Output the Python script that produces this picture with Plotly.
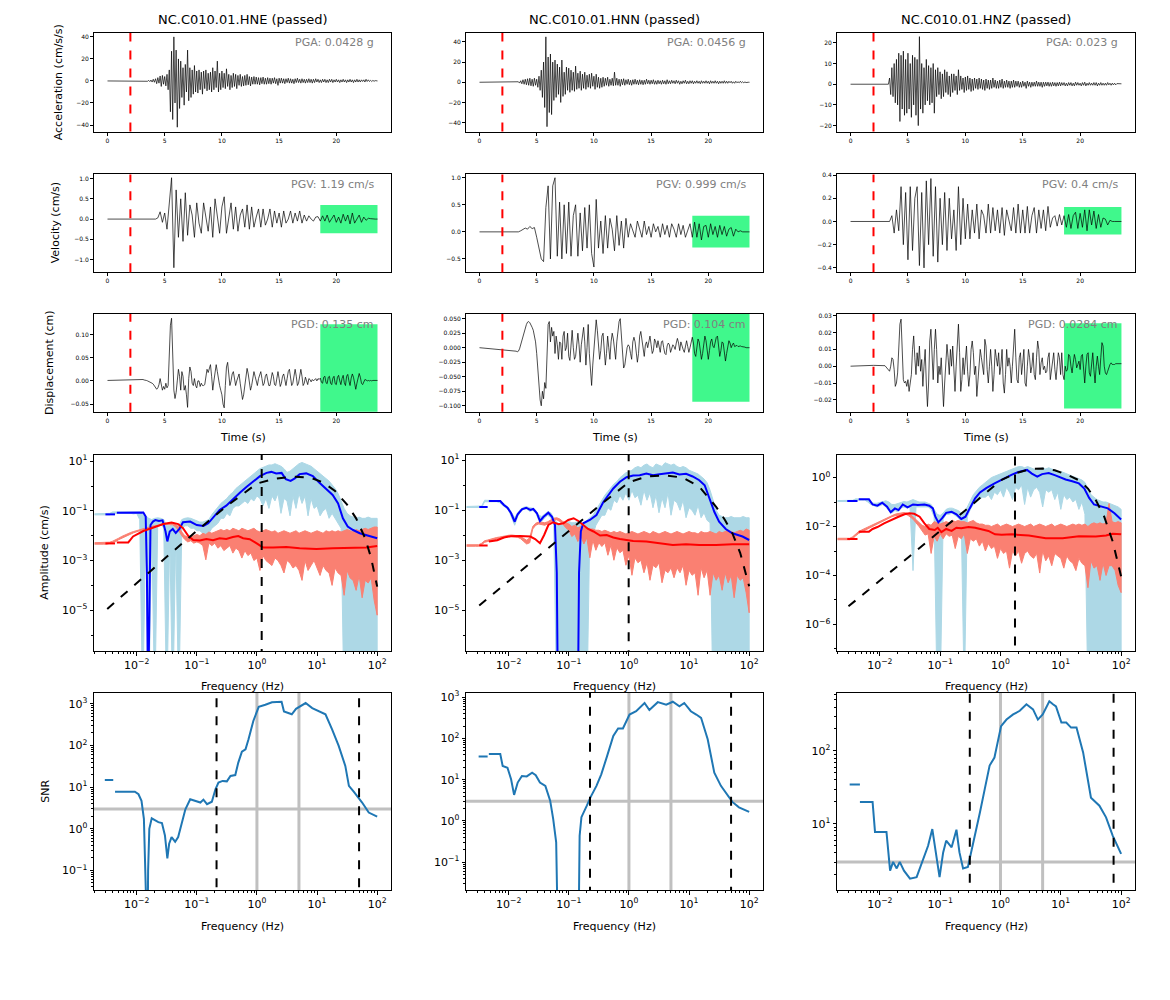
import numpy as np
import plotly.graph_objects as go

# ---------------- DATA ----------------
STATIONS = ["NC.C010.01.HNE (passed)", "NC.C010.01.HNN (passed)", "NC.C010.01.HNZ (passed)"]
PGA_TXT = ["PGA: 0.0428 g", "PGA: 0.0456 g", "PGA: 0.023 g"]
PGV_TXT = ["PGV: 1.19 cm/s", "PGV: 0.999 cm/s", "PGV: 0.4 cm/s"]
PGD_TXT = ["PGD: 0.135 cm", "PGD: 0.104 cm", "PGD: 0.0284 cm"]

P_ARRIVAL = 2.0
T_PRE = [0.0, 1.0, 2.0]
T_MAIN = (3.0, 23.6)
NOISE_WIN = (18.6, 23.6)
NOISE_VEL = [(-0.348, 0.348), (-0.287, 0.296), (-0.112, 0.125)]
NOISE_DISP = [(-0.122, 0.122), (-0.093, 0.093), (-0.0252, 0.0255)]

ACC_E_PRE = [0, 0, 0]
ACC_E = [0, 0, 0, 0, 0.3, -0.3, 0.5, -0.6, 0.8, -1.0,
         1.5, -1.2, 2.0, -2.5, 3.0, -2.0, 4.5, -5.0, 5.0, -3.0,
         4.0, -4.5, 6.0, -8.0, 10.0, -28.0, 27.0, -35.0, 40.0, -20.0,
         28.0, -42.0, 20.0, -25.0, 18.0, -15.0, 12.0, -22.0, 15.0, -10.0,
         28.0, -18.0, 12.0, -15.0, 10.0, -12.0, 14.0, -10.0, 9.0, -11.0,
         10.0, -8.0, 8.0, -12.0, 9.0, -7.0, 10.0, -9.0, 7.0, -8.0,
         8.0, -10.0, 12.0, -8.0, 9.0, -6.0, 18.0, -10.0, 7.0, -8.0,
         9.0, -6.0, 7.0, -7.0, 11.0, -5.0, 6.0, -8.0, 5.0, -6.0,
         7.0, -5.0, 6.0, -7.0, 5.0, -4.0, 6.0, -5.0, 4.0, -4.5,
         5.0, -4.0, 6.0, -3.5, 4.0, -4.5, 3.5, -3.0, 4.0, -3.0,
         3.5, -3.0, 3.0, -3.5, 3.0, -2.5, 3.5, -3.0, 2.5, -3.0,
         3.0, -2.5, 2.5, -3.0, 2.5, -2.0, 3.0, -2.5, 2.0, -4.0,
         2.5, -2.0, 2.5, -2.0, 2.0, -2.5, 2.0, -1.5, 2.5, -2.0,
         2.0, -2.0, 1.5, -2.5, 2.0, -1.5, 2.5, -1.5, 1.5, -2.0,
         2.0, -1.5, 1.5, -2.0, 1.5, -1.5, 2.0, -1.5, 1.5, -2.0,
         1.5, -1.5, 2.0, -1.0, 1.5, -1.5, 1.0, -1.5, 1.5, -1.0,
         1.5, -1.5, 1.0, -1.5, 1.5, -1.0, 1.5, -1.5, 1.0, -1.0,
         1.5, -1.0, 1.0, -1.5, 1.0, -1.0, 1.5, -1.0, 1.0, -1.5,
         1.0, -1.0, 1.5, -1.0, 1.0, -1.5, 1.0, -1.0, 1.5, -1.0,
         1.0, -1.0, 1.0, -0.5, 1.0, -1.0, 1.5, -0.5, 1.0, -0.5,
         0.5, -0.5, 0.5, -0.3, 0.3, 0, 0]

ACC_N_PRE = [0, 0, 0]
ACC_N = [0, 0, 0, 0, 0.5, -0.8, 1.5, -1.5, 2.5, -2.0,
         3.0, -2.5, 3.5, -3.0, 4.0, -3.5, 3.0, -4.0, 4.0, -3.0,
         3.0, -5.0, 6.0, -8.0, 12.0, -15.0, 20.0, -25.0, 45.0, -44.0,
         25.0, -30.0, 28.0, -32.0, 20.0, -18.0, 22.0, -15.0, 18.0, -12.0,
         15.0, -20.0, 22.0, -14.0, 10.0, -12.0, 15.0, -8.0, 14.0, -10.0,
         12.0, -8.0, 10.0, -9.0, 16.0, -7.0, 9.0, -6.0, 11.0, -8.0,
         8.0, -6.0, 10.0, -7.0, 7.0, -5.0, 8.0, -6.0, 9.0, -4.0,
         6.0, -7.0, 8.0, -5.0, 5.0, -6.0, 4.0, -5.0, 5.0, -4.0,
         4.0, -3.0, 5.0, -4.0, 3.0, -3.0, 4.0, -3.5, 10.0, -3.0,
         4.0, -3.0, 3.0, -4.0, 3.0, -2.5, 3.5, -3.0, 2.5, -2.0,
         3.0, -2.5, 2.0, -3.0, 2.5, -2.0, 3.0, -2.0, 2.0, -2.5,
         2.5, -2.0, 2.0, -2.5, 2.0, -2.0, 3.0, -1.5, 2.0, -2.0,
         2.0, -1.5, 2.5, -2.0, 1.5, -2.0, 2.0, -1.5, 1.5, -2.0,
         2.0, -1.5, 1.5, -2.0, 2.5, -1.5, 1.5, -1.5, 2.0, -1.0,
         1.5, -1.5, 2.0, -1.0, 1.5, -2.0, 1.0, -1.5, 1.5, -1.0,
         2.0, -1.5, 1.0, -1.5, 1.5, -1.0, 1.5, -1.5, 1.0, -1.0,
         1.5, -1.0, 1.0, -1.5, 1.5, -1.0, 1.0, -1.0, 1.5, -1.0,
         1.0, -1.5, 1.5, -1.0, 1.0, -1.0, 1.5, -1.0, 1.0, -1.5,
         1.0, -1.0, 1.0, -1.0, 1.5, -1.0, 1.0, -1.0, 1.0, -0.5,
         1.0, -1.0, 0.5, -1.0, 1.0, -0.5, 0.5, -0.5, 1.0, -0.5,
         0.5, -0.5, 0.3, -0.3, 0.2, 0, 0]

ACC_Z_PRE = [0, 0, 0]
ACC_Z = [0, 0, 0, 0, 3.0, -5.0, 8.0, -6.0, 10.0, -9.0,
         12.0, -10.0, 15.0, -18.0, 14.0, -12.0, 16.0, -15.0, 12.0, -14.0,
         15.0, -12.0, 10.0, -16.0, 14.0, -10.0, 13.0, -15.0, 12.0, -20.0,
         23.0, -12.0, 10.0, -14.0, 8.0, -10.0, 12.0, -8.0, 9.0, -10.0,
         8.0, -9.0, 10.0, -14.0, 7.0, -6.0, 8.0, -5.0, 6.0, -7.0,
         5.0, -6.0, 7.0, -4.0, 6.0, -5.0, 4.0, -6.0, 5.0, -4.0,
         5.0, -3.0, 4.0, -5.0, 7.0, -3.0, 4.0, -2.5, 3.0, -4.0,
         3.5, -3.0, 4.0, -2.5, 3.0, -3.5, 2.5, -3.0, 3.0, -2.0,
         2.5, -2.5, 3.0, -2.0, 2.5, -2.5, 2.0, -3.0, 2.5, -2.0,
         2.0, -2.5, 2.0, -2.0, 3.0, -1.5, 2.0, -2.0, 1.5, -2.0,
         2.0, -1.5, 2.5, -2.0, 1.5, -1.5, 2.0, -1.5, 1.5, -2.0,
         1.5, -1.5, 2.0, -1.5, 1.5, -1.0, 1.5, -1.5, 1.0, -1.5,
         1.5, -1.0, 1.0, -2.0, 1.5, -1.0, 1.0, -1.5, 1.0, -1.0,
         1.0, -1.0, 1.5, -1.0, 1.0, -1.0, 1.0, -1.5, 1.0, -1.0,
         1.0, -0.8, 1.0, -1.0, 0.8, -1.0, 1.0, -0.8, 0.8, -1.0,
         0.8, -0.8, 1.0, -0.8, 0.8, -0.5, 0.8, -0.8, 0.5, -0.8,
         0.8, -0.5, 0.8, -0.8, 0.5, -0.8, 1.0, -0.5, 0.8, -0.5,
         0.5, -0.8, 0.8, -0.5, 1.0, -0.8, 0.5, -0.5, 0.8, -0.5,
         0.5, -0.5, 0.8, -0.5, 0.8, -0.8, 0.5, -0.5, 0.8, -0.5,
         0.5, -0.5, 0.5, -0.5, 0.8, -0.3, 0.5, -0.5, 0.5, -0.3,
         0.5, -0.3, 0.3, 0.3, 0.2, 0.2, 0.2]

# velocity sampled every 0.2 s from 3.0 s
VEL_E_PRE = [0, 0, 0]
VEL_E = [0, 0, 0, 0, -0.01, -0.01, 0.0, 0.03, 0.18, -0.08,
         0.15, -0.25, 0.3, 1.02, -1.2, 0.72, -0.45, 0.5, -0.55, 0.65,
         -0.4, 0.35, 0.1, -0.45, 0.4, -0.1, -0.35, 0.4, 0.05, -0.3,
         0.3, -0.45, 0.5, 0.1, -0.35, 0.3, 0.55, -0.35, 0.0, 0.4,
         -0.25, 0.3, -0.3, 0.1, 0.25, -0.2, 0.35, -0.25, 0.3, -0.2,
         0.05, 0.25, -0.2, 0.25, -0.15, 0.0, 0.25, -0.2, 0.2, -0.1,
         0.15, -0.2, 0.2, -0.1, 0.0, 0.2, -0.1, 0.15, -0.05, 0.2,
         -0.1, 0.1, -0.05, 0.08, 0.0, -0.05, 0.05, 0.06, -0.05, 0.08,
         -0.05, 0.1, -0.08, 0.02, 0.1, -0.08, 0.05, -0.1, 0.12, -0.05,
         0.1, -0.12, 0.15, -0.1, 0.0, 0.1, -0.08, 0.05, -0.03, 0.02,
         0.01, 0.0, 0.0, 0.0]

VEL_N_PRE = [0, 0, 0]
VEL_N = [0, 0, 0, 0.02, 0.05, 0.07, 0.05, 0.1, 0.06, 0.08,
         -0.1, -0.3, -0.5, -0.55, 0.45, 0.85, -0.5, 0.85, 1.0, -0.45,
         0.55, -0.5, 0.5, -0.4, 0.55, -0.45, 0.3, 0.5, -0.45, 0.35,
         -0.35, 0.45, -0.3, 0.5, -0.4, -0.65, 0.6, -0.3, 0.2, -0.4,
         0.3, -0.3, 0.25, 0.05, -0.35, 0.3, -0.25, 0.2, -0.3, 0.25,
         -0.1, 0.15, 0.0, -0.1, 0.2, 0.05, -0.1, 0.2, -0.05, 0.1,
         -0.1, 0.15, 0.0, 0.1, -0.1, 0.15, -0.05, 0.12, -0.1, 0.15,
         0.05, -0.1, 0.15, -0.05, 0.12, -0.1, 0.05, 0.15, -0.1, 0.18,
         -0.1, 0.15, -0.15, 0.1, 0.12, -0.1, 0.15, -0.05, 0.1, -0.1,
         0.12, -0.05, 0.1, -0.08, 0.05, 0.08, -0.08, 0.05, 0.0, 0.02,
         0.0, 0.0, 0.0, 0.0]

VEL_Z_PRE = [0, 0, 0]
VEL_Z = [0, 0, 0, 0.05, -0.1, 0.1, -0.08, 0.3, -0.2, 0.25,
         -0.33, 0.3, -0.25, 0.2, 0.3, -0.38, 0.25, -0.4, 0.35, -0.2,
         0.37, -0.3, 0.3, -0.35, 0.2, -0.2, 0.25, -0.25, 0.2, -0.15,
         0.1, -0.25, 0.3, -0.2, 0.2, -0.15, 0.15, -0.15, 0.1, -0.1,
         0.15, -0.15, 0.1, 0.05, -0.1, 0.15, -0.1, 0.12, -0.08, 0.1,
         -0.1, 0.12, -0.12, 0.1, 0.0, -0.08, 0.12, -0.1, 0.15, -0.1,
         0.1, -0.1, 0.13, -0.1, 0.05, 0.12, -0.1, 0.1, -0.06, 0.1,
         -0.08, 0.13, -0.05, 0.03, 0.05, -0.04, 0.06, -0.03, 0.05, -0.05,
         0.06, -0.06, 0.05, 0.08, -0.06, 0.07, -0.05, 0.1, -0.08, 0.1,
         -0.03, 0.09, -0.06, 0.06, -0.05, 0.03, 0.02, -0.03, 0.01, 0.0,
         0.0, 0.0, 0.0, 0.0]

DISP_E_PRE = [0.001, 0.002, 0.003]
DISP_E = [0.003, 0.003, 0.002, 0.002, 0.001, 0.0, -0.001, -0.002, -0.003, -0.005,
          -0.007, -0.01, -0.014, -0.018, -0.015, -0.008, 0.005, -0.01, -0.02, -0.012,
          -0.018, -0.005, -0.015, -0.01, 0.06, 0.12, 0.135, 0.05, -0.02, -0.038,
          -0.025, 0.0, 0.025, 0.01, -0.02, 0.02, 0.01, -0.02, -0.01, -0.03,
          -0.057, 0.005, 0.03, 0.02, -0.005, -0.01, 0.005, -0.01, -0.015, 0.0,
          0.0, -0.012, -0.005, -0.01, -0.01, -0.008, 0.015, 0.025, 0.018, 0.03,
          0.035, 0.01, -0.02, 0.0, 0.025, 0.035, 0.02, 0.0, -0.01, -0.02,
          -0.03, -0.05, -0.058, -0.01, 0.03, 0.04, 0.02, -0.01, 0.0, 0.015,
          0.02, 0.0, -0.01, 0.0, 0.01, 0.015, -0.005, -0.025, -0.04, -0.03,
          -0.01, 0.015, 0.027, 0.015, -0.005, -0.02, -0.01, 0.01, 0.02, 0.01,
          -0.005, -0.01, 0.005, 0.015, 0.02, 0.005, -0.01, -0.005, 0.01, 0.015,
          0.005, -0.01, -0.01, 0.005, 0.018, 0.01, -0.008, -0.01, 0.01, 0.02,
          0.005, -0.012, -0.005, 0.01, 0.015, 0.0, -0.01, 0.005, 0.02, 0.025,
          0.005, -0.01, -0.005, 0.015, 0.025, 0.01, -0.01, -0.005, 0.015, 0.025,
          0.01, -0.01, -0.005, 0.008, 0.0, -0.008, 0.005, 0.003, -0.002, 0.003,
          0.0, 0.002, 0.005, 0.0, 0.005, 0.003, 0.006, -0.003, -0.005, 0.008,
          0.01, -0.004, -0.006, 0.008, 0.01, -0.005, -0.008, 0.006, 0.01, -0.006,
          -0.008, 0.008, 0.012, 0.0, -0.008, 0.005, 0.012, -0.004, -0.01, 0.01,
          0.014, 0.0, -0.01, 0.006, 0.015, 0.008, -0.01, -0.018, -0.005, 0.01,
          0.016, 0.008, -0.005, -0.008, 0.0, 0.003, 0.002, 0.0, 0.001, 0.0,
          0.001, 0.0, 0.001, 0.001, 0.001, 0.001, 0.001]

DISP_N_PRE = [0.0, -0.002, -0.004]
DISP_N = [-0.005, -0.006, -0.006, -0.007, -0.006, -0.002, 0.005, 0.012, 0.02, 0.028,
          0.035, 0.04, 0.044, 0.045, 0.043, 0.04, 0.035, 0.03, 0.02, 0.01,
          -0.01, -0.04, -0.07, -0.09, -0.1, -0.075, -0.088, -0.06, -0.07, -0.02,
          0.04, 0.045, 0.01, 0.035, 0.02, 0.028, -0.01, 0.02, 0.005, -0.02,
          0.01, 0.008, -0.02, 0.02, 0.028, -0.005, 0.0, 0.025, -0.015, -0.022,
          0.015, 0.03, 0.0, -0.02, -0.015, 0.01, 0.025, 0.005, -0.025, 0.005,
          0.02, 0.035, 0.01, -0.03, 0.0, 0.04, -0.01, -0.05, -0.065, -0.03,
          0.0, 0.03, 0.048, 0.03, 0.0, -0.02, -0.005, 0.02, 0.025, -0.01,
          -0.03, -0.01, 0.02, 0.0, -0.02, 0.01, 0.025, 0.015, -0.005, -0.02,
          0.01, 0.03, 0.045, 0.05, 0.02, -0.02, -0.035, -0.03, -0.01, 0.0,
          0.005, 0.002, -0.01, -0.02, 0.01, 0.018, 0.01, -0.01, -0.025, -0.01,
          0.02, 0.028, 0.015, -0.005, -0.015, 0.005, 0.01, 0.0, 0.012, 0.02,
          0.005, -0.01, -0.005, 0.015, 0.01, 0.0, 0.012, 0.0, -0.008, 0.01,
          0.012, 0.0, -0.01, -0.012, 0.003, 0.008, 0.005, -0.008, 0.0, 0.005,
          0.002, -0.003, 0.008, 0.016, 0.008, -0.005, 0.01, 0.002, -0.003, -0.008,
          0.005, 0.012, 0.002, -0.008, 0.0, 0.01, 0.018, 0.008, -0.01, -0.015,
          0.0, 0.015, 0.01, -0.005, -0.02, -0.01, 0.008, 0.02, 0.012, -0.01,
          -0.02, -0.005, 0.01, 0.015, 0.003, 0.0, 0.01, 0.018, 0.02, 0.0,
          -0.015, -0.005, 0.01, 0.008, -0.01, -0.023, -0.01, 0.005, 0.012, 0.008,
          0.0, 0.005, 0.008, 0.002, 0.003, 0.004, 0.002, 0.003, 0.003, 0.002,
          0.002, 0.001, 0.001, 0.0, 0.0, 0.0, 0.0]

DISP_Z_PRE = [0.0, 0.0003, 0.0005]
DISP_Z = [0.0003, -0.0005, -0.001, -0.002, -0.003, 0.0, 0.005, 0.004, -0.002, -0.012,
          -0.01, -0.004, 0.01, 0.025, 0.028, 0.01, -0.008, -0.01, -0.009, -0.012,
          -0.008, -0.015, -0.01, -0.005, 0.01, 0.018, 0.005, -0.005, 0.008, 0.0,
          0.012, -0.003, 0.004, -0.012, 0.0, 0.01, -0.01, -0.024, -0.01, 0.015,
          0.022, 0.0, -0.008, 0.01, 0.022, 0.01, -0.01, 0.0, -0.005, 0.005,
          -0.01, -0.024, -0.01, 0.005, 0.013, 0.005, -0.005, 0.01, 0.0, 0.012,
          -0.005, -0.015, 0.0, 0.015, 0.025, 0.008, -0.015, -0.008, 0.005, -0.005,
          0.006, 0.012, -0.003, -0.012, -0.005, 0.01, 0.015, 0.008, -0.005, 0.0,
          -0.018, -0.01, 0.0, 0.01, 0.005, 0.0, -0.005, 0.016, 0.012, -0.002,
          -0.01, 0.0, 0.01, 0.0, -0.015, -0.005, 0.01, 0.005, 0.0, 0.008,
          -0.005, 0.0, 0.01, -0.01, -0.016, -0.005, 0.01, 0.0, 0.005, 0.0,
          -0.01, 0.0, 0.015, 0.022, 0.005, -0.008, -0.01, 0.005, 0.008, -0.005,
          0.002, 0.01, -0.01, -0.012, 0.0, 0.01, 0.005, -0.004, 0.0, 0.008,
          -0.005, -0.008, 0.005, 0.015, 0.01, -0.005, 0.002, 0.005, -0.002, 0.0,
          -0.004, -0.003, 0.005, 0.008, -0.008, -0.003, 0.0, 0.008, -0.002, -0.008,
          0.0, 0.008, 0.005, -0.005, 0.008, -0.005, -0.008, 0.0, -0.003, -0.002,
          0.007, 0.006, 0.0, -0.004, 0.002, 0.007, 0.004, -0.001, 0.001, 0.003,
          -0.002, 0.006, 0.007, -0.004, -0.01, 0.0, 0.007, 0.008, -0.004, -0.006,
          0.004, 0.008, -0.002, -0.01, 0.0, 0.006, 0.0, -0.005, 0.005, 0.014,
          0.012, 0.0, -0.004, -0.005, -0.003, 0.0, 0.001, 0.002, 0.001, 0.001,
          0.001, 0.0015, 0.0015, 0.0015, 0.0015, 0.0015, 0.0015]

# Raw spectra envelopes (log10 cm/s) on a log-frequency grid 10^-2.70 .. 10^2.00
RAW_LOGF_SPAN = (-2.70, 2.00)
SIG_UP_E = [-1.12, -1.12, -1.12, -1.12, -1.12, -1.10, -1.04, -1.04, -1.03, -1.03,
            -1.03, -1.02, -1.02, -1.03, -1.02, -1.05, -1.15, -1.2, -1.3, -1.35,
            -1.3, -1.28, -1.3, -1.35, -1.6, -1.6, -1.55, -1.6, -1.6, -1.35,
            -1.3, -1.28, -1.3, -1.35, -1.4, -1.45, -1.45, -1.4, -1.35, -1.15,
            -1.0, -0.85, -0.7, -0.6, -0.5, -0.35, -0.25, -0.1, 0.0, 0.1,
            0.2, 0.3, 0.4, 0.5, 0.6, 0.7, 0.75, 0.8, 0.85, 0.85,
            0.9, 0.85, 0.8, 0.7, 0.55, 0.6, 0.7, 0.8, 0.9, 0.95,
            0.9, 0.85, 0.8, 0.7, 0.6, 0.5, 0.4, 0.3, 0.2, 0.05,
            -0.1, -0.3, -0.6, -0.9, -1.1, -1.2, -1.25, -1.3, -1.25, -1.3,
            -1.3, -1.25, -1.3, -1.3, -1.3]
SIG_LO_E = [-1.16, -1.16, -1.16, -1.16, -1.16, -1.16, -1.10, -1.10, -1.10, -1.10,
            -1.10, -1.10, -1.10, -1.12, -1.10, -1.35, -9, -1.6, -9, -1.7,
            -9, -1.55, -1.5, -1.7, -9, -2.0, -9, -2.0, -9, -1.75,
            -1.6, -1.6, -1.7, -1.7, -1.8, -1.8, -1.9, -2.0, -1.9, -1.7,
            -1.6, -1.5, -1.3, -1.3, -1.1, -1.2, -0.9, -0.8, -0.8, -0.7,
            -0.6, -0.7, -0.5, -0.6, -0.4, -0.5, -0.8, -0.5, -0.9, -0.4,
            -0.6, -0.3, -1.1, -0.5, -0.6, -1.2, -0.4, -0.9, -0.3, -0.7,
            -0.4, -1.2, -0.5, -0.9, -0.8, -1.2, -1.0, -0.9, -1.3, -1.1,
            -1.3, -1.5, -1.7, -9, -9, -9, -9, -9, -9, -9,
            -9, -9, -9, -9, -9]
NOISE_UP_E = [-2.28, -2.28, -2.28, -2.28, -2.28, -2.26, -2.22, -2.17, -2.1, -2.03,
              -1.97, -1.92, -1.87, -1.83, -1.79, -1.75, -1.71, -1.68, -1.65, -1.62,
              -1.6, -1.57, -1.55, -1.53, -1.51, -1.5, -1.5, -1.55, -1.65, -1.85,
              -2.0, -2.05, -2.0, -2.0, -1.95, -2.0, -1.9, -1.95, -1.85, -1.9,
              -1.85, -1.8, -1.75, -1.8, -1.75, -1.8, -1.7, -1.75, -1.8, -1.7,
              -1.75, -1.8, -1.75, -1.7, -1.8, -1.85, -1.8, -1.75, -1.8, -1.85,
              -1.8, -1.9, -1.85, -1.8, -1.85, -1.9, -1.85, -1.8, -1.9, -1.85,
              -1.8, -1.85, -1.9, -1.85, -1.8, -1.85, -1.9, -1.8, -1.85, -1.8,
              -1.85, -1.8, -1.85, -1.8, -1.75, -1.8, -1.85, -1.75, -1.8, -1.75,
              -1.7, -1.75, -1.7, -1.65, -1.65]
NOISE_LO_E = [-2.34, -2.34, -2.34, -2.34, -2.34, -2.32, -2.28, -2.24, -2.16, -2.09,
              -2.03, -1.98, -1.93, -1.88, -1.84, -1.79, -1.75, -1.72, -1.69, -1.66,
              -1.64, -1.61, -1.58, -1.56, -1.55, -1.54, -1.56, -1.65, -1.8, -2.0,
              -2.15, -2.25, -2.2, -2.3, -2.25, -2.3, -2.4, -2.97, -2.3, -2.4,
              -2.3, -2.5, -2.4, -2.6, -2.5, -2.4, -2.7, -2.5, -2.6, -2.9,
              -2.6, -2.8, -2.7, -3.0, -2.9, -3.4, -2.8, -3.0, -3.1, -3.2,
              -2.9, -3.0, -3.2, -3.5, -3.0, -3.1, -3.3, -3.2, -3.4, -3.8,
              -3.0, -3.4, -3.2, -3.0, -3.3, -3.6, -3.2, -3.4, -3.5, -4.0,
              -3.3, -3.5, -3.6, -4.4, -3.4, -3.7, -3.8, -4.2, -3.6, -4.5,
              -3.8, -3.9, -3.7, -4.6, -5.2]

SIG_UP_N = [-0.85, -0.85, -0.85, -0.85, -0.85, -0.83, -0.6, -0.6, -0.6, -0.6,
            -0.6, -0.62, -0.7, -0.8, -0.9, -1.1, -1.3, -1.1, -0.95, -0.88,
            -0.86, -0.9, -0.92, -1.0, -1.2, -1.25, -1.15, -1.05, -1.1, -1.3,
            -1.5, -1.55, -1.6, -1.5, -1.45, -1.5, -1.5, -1.45, -1.6, -1.5,
            -1.4, -1.3, -1.2, -1.0, -0.8, -0.55, -0.4, -0.25, -0.1, 0.05,
            0.15, 0.3, 0.4, 0.5, 0.55, 0.6, 0.7, 0.75, 0.7, 0.8,
            0.85, 0.75, 0.7, 0.85, 0.8, 0.75, 0.9, 0.85, 0.8, 0.85,
            0.75, 0.7, 0.75, 0.7, 0.6, 0.55, 0.5, 0.45, 0.35, 0.25,
            0.1, -0.2, -0.6, -1.0, -1.2, -1.25, -1.3, -1.3, -1.25, -1.3,
            -1.3, -1.3, -1.25, -1.3, -1.3]
SIG_LO_N = [-0.89, -0.89, -0.89, -0.89, -0.89, -0.89, -0.66, -0.66, -0.66, -0.66,
            -0.66, -0.7, -0.8, -0.9, -1.0, -1.3, -1.6, -1.25, -1.05, -0.96,
            -0.95, -1.05, -1.0, -1.1, -1.4, -1.45, -1.3, -1.2, -1.3, -1.6,
            -9, -9, -9, -9, -9, -9, -9, -9, -9, -9,
            -9, -1.7, -2.0, -1.6, -1.4, -1.2, -1.2, -0.9, -1.0, -0.6,
            -0.7, -0.4, -0.6, -0.3, -0.6, -0.2, -0.5, -0.4, -0.8, -0.2,
            -0.6, -0.3, -0.9, -0.4, -1.1, -0.5, -0.9, -0.3, -1.2, -0.6,
            -0.7, -1.0, -0.6, -1.3, -0.9, -1.0, -1.2, -0.8, -1.3, -1.1,
            -1.4, -1.5, -9, -9, -9, -9, -9, -9, -9, -9,
            -9, -9, -9, -9, -9]
NOISE_UP_N = [-2.38, -2.38, -2.38, -2.38, -2.38, -2.32, -2.22, -2.19, -2.15, -2.12,
              -2.09, -2.07, -2.04, -2.02, -2.0, -1.99, -2.0, -2.02, -2.06, -2.12,
              -2.2, -2.1, -1.65, -1.52, -1.47, -1.48, -1.5, -1.46, -1.38, -1.32,
              -1.3, -1.35, -1.45, -1.5, -1.55, -1.65, -1.6, -1.7, -1.65, -1.7,
              -1.7, -1.75, -1.75, -1.8, -1.8, -1.85, -1.8, -1.85, -1.9, -1.85,
              -1.9, -1.85, -1.9, -1.95, -1.9, -1.85, -1.9, -1.95, -1.9, -1.85,
              -1.9, -1.95, -1.85, -1.9, -1.95, -1.9, -1.85, -1.9, -1.95, -1.9,
              -1.85, -1.9, -1.95, -1.9, -1.85, -1.9, -1.9, -1.95, -1.85, -1.9,
              -1.9, -1.85, -1.9, -1.95, -1.85, -1.9, -1.85, -1.8, -1.85, -1.9,
              -1.85, -1.8, -1.85, -1.75, -1.8]
NOISE_LO_N = [-2.44, -2.44, -2.44, -2.44, -2.44, -2.38, -2.28, -2.25, -2.21, -2.18,
              -2.15, -2.13, -2.1, -2.08, -2.06, -2.05, -2.06, -2.08, -2.14, -2.25,
              -2.35, -2.3, -1.75, -1.6, -1.55, -1.58, -1.6, -1.55, -1.48, -1.4,
              -1.38, -1.45, -1.55, -1.7, -1.8, -2.05, -1.95, -2.25, -2.0, -2.35,
              -2.1, -2.9, -2.2, -2.6, -2.3, -2.45, -2.3, -2.8, -2.4, -3.0,
              -2.5, -2.7, -2.6, -3.2, -2.8, -3.6, -2.9, -3.1, -3.0, -3.5,
              -3.1, -3.8, -3.2, -3.3, -3.1, -3.9, -3.4, -3.5, -3.3, -3.7,
              -3.3, -3.5, -3.2, -4.0, -3.4, -3.6, -3.5, -4.4, -3.3, -3.7,
              -3.4, -4.4, -3.5, -3.8, -3.6, -4.2, -3.5, -3.9, -3.6, -4.5,
              -3.6, -3.8, -3.7, -4.3, -5.1]

SIG_UP_Z = [-0.94, -0.94, -0.94, -0.94, -0.94, -0.93, -0.87, -0.87, -0.87, -0.87,
            -0.9, -1.0, -1.05, -1.05, -1.02, -0.98, -0.95, -1.0, -1.1, -1.1,
            -1.05, -1.0, -0.98, -1.0, -0.95, -0.9, -0.95, -1.0, -1.0, -1.0,
            -1.05, -1.1, -1.3, -1.5, -1.55, -1.45, -1.3, -1.25, -1.25, -1.3,
            -1.35, -1.45, -1.4, -1.2, -0.95, -0.7, -0.55, -0.4, -0.3, -0.2,
            -0.1, 0.0, 0.05, 0.1, 0.15, 0.2, 0.25, 0.3, 0.35, 0.4,
            0.45, 0.45, 0.4, 0.45, 0.4, 0.35, 0.3, 0.35, 0.4, 0.35,
            0.4, 0.35, 0.3, 0.25, 0.25, 0.2, 0.15, 0.1, 0.05, 0.0,
            -0.05, -0.1, -0.2, -0.45, -0.7, -0.8, -0.9, -0.95, -1.0, -1.0,
            -1.05, -1.1, -1.15, -1.2, -1.3]
SIG_LO_Z = [-0.98, -0.98, -0.98, -0.98, -0.98, -0.98, -0.92, -0.92, -0.92, -0.92,
            -1.0, -1.1, -1.15, -1.2, -1.15, -1.1, -1.2, -1.35, -1.45, -1.35,
            -1.4, -1.25, -1.2, -1.25, -1.2, -3.8, -1.2, -1.2, -1.2, -1.2,
            -1.2, -1.3, -1.6, -9, -9, -1.7, -1.5, -1.5, -1.45, -1.55,
            -1.65, -1.8, -9, -1.6, -1.3, -1.1, -1.0, -0.9, -0.8, -0.8,
            -0.7, -0.9, -0.6, -0.7, -0.5, -0.8, -0.4, -0.6, -0.9, -0.4,
            -0.5, -0.3, -1.1, -0.4, -0.8, -0.5, -0.4, -0.6, -1.2, -0.5,
            -0.6, -0.5, -0.9, -0.6, -1.3, -0.7, -0.9, -0.8, -1.0, -0.9,
            -1.3, -1.0, -1.5, -9, -9, -9, -9, -9, -9, -9,
            -9, -9, -9, -9, -9]
NOISE_UP_Z = [-2.48, -2.48, -2.48, -2.48, -2.48, -2.42, -2.3, -2.2, -2.14, -2.08,
              -2.02, -1.96, -1.9, -1.84, -1.78, -1.72, -1.66, -1.6, -1.54, -1.5,
              -1.47, -1.45, -1.43, -1.45, -1.5, -1.6, -1.72, -1.85, -1.95, -2.0,
              -1.9, -1.95, -1.8, -1.85, -1.9, -1.85, -1.8, -1.85, -1.75, -1.8,
              -1.75, -1.8, -1.8, -1.85, -1.8, -1.75, -1.85, -1.9, -1.9, -1.95,
              -1.95, -2.0, -1.95, -1.9, -2.0, -1.95, -1.9, -1.95, -2.0, -1.95,
              -1.9, -1.95, -2.0, -1.95, -1.9, -2.0, -1.95, -1.9, -1.95, -2.0,
              -1.95, -1.9, -2.0, -1.95, -1.9, -1.95, -2.0, -1.95, -1.9, -1.95,
              -1.9, -1.95, -1.9, -2.0, -1.9, -1.85, -1.9, -1.85, -1.9, -1.85,
              -1.06, -1.8, -1.85, -1.8, -1.85]
NOISE_LO_Z = [-2.54, -2.54, -2.54, -2.54, -2.54, -2.5, -2.38, -2.28, -2.2, -2.14,
              -2.08, -2.02, -1.96, -1.9, -1.84, -1.78, -1.72, -1.66, -1.6, -1.56,
              -1.53, -1.51, -1.5, -1.52, -1.6, -1.7, -1.85, -2.0, -2.15, -2.35,
              -2.3, -3.1, -2.4, -2.6, -2.3, -2.5, -2.3, -2.4, -2.35, -2.9,
              -2.4, -2.5, -2.3, -3.1, -2.5, -2.6, -2.5, -2.8, -2.6, -3.0,
              -2.7, -2.9, -2.8, -3.3, -2.9, -3.1, -3.0, -3.7, -3.0, -3.2,
              -3.0, -3.5, -3.1, -3.0, -3.2, -3.3, -3.1, -3.9, -3.0, -3.4,
              -3.2, -3.6, -3.1, -3.2, -3.3, -3.7, -3.2, -3.4, -3.5, -3.8,
              -3.3, -3.5, -3.6, -4.5, -3.4, -3.7, -3.6, -4.2, -3.5, -4.0,
              -3.6, -3.6, -3.8, -4.4, -4.7]

SM_SIG_E_LOGF = [-2.52, -2.36, None, -2.33, -2.14, -2.11, -1.89, -1.85, -1.83, -1.81, -1.79,
                 -1.77, -1.73, -1.69, -1.63, -1.57, -1.52, -1.49, -1.45, -1.40, -1.35, -1.29,
                 -1.23, -1.11, -1.00, -0.89, -0.81, -0.73, -0.62, -0.51, -0.40, -0.28, -0.17,
                 -0.06, 0.05, 0.16, 0.24, 0.32, 0.41, 0.48, 0.56, 0.63, 0.71, 0.82, 0.93, 1.04,
                 1.15, 1.26, 1.35, 1.43, 1.51, 1.60, 1.71, 1.82, 2.00]
SM_SIG_E = [-1.14, -1.14, None, -1.07, -1.07, -1.06, -1.06, -1.23, -3.5, -9, -4,
            -1.57, -1.43, -1.37, -1.41, -1.38, -1.83, -2.23, -1.83, -1.73, -1.89, -1.73,
            -1.46, -1.43, -1.57, -1.61, -1.50, -1.27, -0.96, -0.79, -0.52, -0.26, -0.03,
            0.2, 0.4, 0.53, 0.57, 0.51, 0.53, 0.28, 0.21, 0.31, 0.48, 0.51, 0.4, 0.13,
            -0.12, -0.36, -0.7, -1.3, -1.63, -1.77, -1.9, -1.97, -2.1]
SM_NOISE_E_LOGF = [-2.52, -2.36, None, -2.33, -2.14, -2.06, -1.89, -1.72, -1.56, -1.42, -1.31,
                   -1.23, -1.14, -1.06, -0.95, -0.84, -0.73, -0.62, -0.51, -0.40, -0.31, -0.23,
                   -0.12, -0.01, 0.10, 0.27, 0.49, 0.71, 0.99, 1.26, 1.54, 1.82, 2.00]
SM_NOISE_E = [-2.31, -2.31, None, -2.27, -2.27, -2.03, -1.81, -1.67, -1.53, -1.47, -1.53,
              -1.70, -2.01, -2.17, -2.19, -2.13, -2.18, -2.10, -2.13, -2.05, -2.01, -2.10,
              -2.14, -2.30, -2.47, -2.47, -2.45, -2.50, -2.53, -2.50, -2.50, -2.47, -2.41]
SM_SIG_N_LOGF = [-2.49, -2.35, None, -2.33, -2.14, -2.08, -2.02, -1.96, -1.90, -1.85, -1.78,
                 -1.71, -1.64, -1.59, -1.53, -1.48, -1.42, -1.34, -1.28, -1.23, -1.20, -1.18,
                 -0.85, -0.83, -0.80, -0.76, -0.65, -0.54, -0.43, -0.34, -0.26, -0.15, -0.04,
                 0.07, 0.18, 0.29, 0.40, 0.51, 0.62, 0.73, 0.84, 0.95, 1.06, 1.17, 1.26, 1.34,
                 1.42, 1.50, 1.61, 1.72, 1.89, 2.00]
SM_SIG_N = [-0.87, -0.87, None, -0.63, -0.63, -0.79, -0.90, -1.12, -1.46, -1.16, -0.96,
            -0.90, -0.99, -0.95, -1.12, -1.43, -1.26, -1.10, -1.26, -1.59, -3.5, -9,
            -9, -3.5, -1.85, -1.52, -1.39, -1.19, -0.69, -0.39, -0.13, 0.14, 0.32,
            0.39, 0.40, 0.47, 0.40, 0.44, 0.47, 0.51, 0.43, 0.46, 0.35, 0.20, 0.00, -0.53,
            -1.06, -1.46, -1.75, -1.92, -2.05, -2.19]
SM_NOISE_N_LOGF = [-2.49, -2.35, None, -2.33, -2.19, -2.08, -1.97, -1.81, -1.64, -1.56, -1.48,
                   -1.41, -1.34, -1.26, -1.17, -1.09, -1.01, -0.92, -0.84, -0.76, -0.68, -0.59,
                   -0.48, -0.37, -0.26, -0.15, -0.04, 0.07, 0.29, 0.51, 0.73, 0.95, 1.17, 1.45,
                   1.72, 2.00]
SM_NOISE_N = [-2.41, -2.41, None, -2.25, -2.20, -2.09, -2.04, -2.03, -2.05, -2.15, -2.32,
              -1.99, -1.59, -1.48, -1.56, -1.52, -1.39, -1.32, -1.43, -1.59, -1.75, -1.85,
              -2.01, -1.99, -2.09, -2.15, -2.20, -2.23, -2.25, -2.32, -2.39, -2.36, -2.39, -2.39,
              -2.36, -2.36]
SM_SIG_Z_LOGF = [-2.54, -2.37, None, -2.35, -2.18, -2.12, -2.04, -1.96, -1.88, -1.82, -1.75,
                 -1.69, -1.62, -1.54, -1.45, -1.37, -1.26, -1.18, -1.12, -1.08, -1.03, -0.97,
                 -0.90, -0.81, -0.73, -0.65, -0.58, -0.51, -0.42, -0.34, -0.23, -0.09, 0.05,
                 0.19, 0.30, 0.44, 0.52, 0.61, 0.69, 0.80, 0.91, 1.00, 1.08, 1.19, 1.30, 1.39,
                 1.47, 1.55, 1.67, 1.78, 1.89, 2.00]
SM_SIG_Z = [-0.96, -0.96, None, -0.89, -0.89, -1.10, -1.15, -1.03, -1.19, -1.42, -1.26,
            -1.33, -1.10, -1.22, -1.10, -1.12, -1.10, -1.15, -1.26, -1.60, -1.83, -1.67,
            -1.44, -1.40, -1.50, -1.69, -1.60, -1.26, -0.85, -0.61, -0.42, -0.23, -0.04,
            0.12, 0.23, 0.31, 0.16, 0.04, 0.14, 0.18, 0.09, -0.01, -0.08, -0.15, -0.24, -0.45,
            -0.83, -1.10, -1.19, -1.26, -1.46, -1.71]
SM_NOISE_Z_LOGF = [-2.54, -2.37, None, -2.35, -2.18, -2.12, -2.04, -1.93, -1.82, -1.70, -1.59,
                   -1.51, -1.43, -1.34, -1.26, -1.18, -1.09, -1.04, -0.98, -0.90, -0.81, -0.73,
                   -0.65, -0.53, -0.42, -0.31, -0.20, -0.09, 0.02, 0.19, 0.47, 0.75, 1.03, 1.30,
                   1.58, 1.75, 1.86, 2.00]
SM_NOISE_Z = [-2.51, -2.51, None, -2.21, -2.21, -2.10, -2.02, -1.87, -1.73, -1.61, -1.50,
              -1.46, -1.48, -1.60, -1.87, -2.10, -2.14, -2.05, -2.23, -2.10, -2.18, -2.05,
              -2.07, -2.02, -2.05, -2.10, -2.18, -2.32, -2.34, -2.32, -2.37, -2.48, -2.48, -2.40,
              -2.41, -2.37, -2.30, -2.32]

MODEL_E_LOGF = [-2.49, -2.0, -1.5, -1.0, -0.5, 0.0, 0.3, 0.6, 0.9, 1.1, 1.3, 1.5, 1.65, 1.8, 1.9, 2.0]
MODEL_E = [-4.95, -3.9, -2.85, -1.8, -0.8, 0.1, 0.3, 0.38, 0.33, 0.15, -0.2, -0.75, -1.3, -2.1, -2.9, -4.05]
MODEL_N_LOGF = [-2.49, -2.0, -1.5, -1.0, -0.5, 0.0, 0.3, 0.6, 0.9, 1.17, 1.45, 1.6, 1.72, 1.85, 2.0]
MODEL_N = [-4.81, -3.83, -2.83, -1.83, -0.83, 0.12, 0.35, 0.4, 0.3, -0.06, -0.86, -1.4, -1.92, -2.7, -4.04]
MODEL_Z_LOGF = [-2.52, -2.0, -1.5, -1.0, -0.5, 0.0, 0.25, 0.5, 0.7, 0.9, 1.1, 1.3, 1.45, 1.58, 1.72, 1.86, 2.0]
MODEL_Z = [-5.26, -4.22, -3.2, -2.18, -1.17, -0.12, 0.17, 0.35, 0.37, 0.3, 0.12, -0.11, -0.45, -0.92, -1.6, -2.61, -4.04]
CORNER_FREQ = [1.2, 0.99, 1.74]

SNR_E_LOGF = [-2.53, -2.39, None, -2.36, -2.03, -1.97, -1.92, -1.88, -1.86, -1.84, -1.82, -1.81,
              -1.79, -1.75, -1.69, -1.64, -1.58, -1.53, -1.49, -1.46, -1.42, -1.36, -1.31, -1.25,
              -1.19, -1.11, -1.03, -0.94, -0.89, -0.83, -0.75, -0.69, -0.64, -0.57, -0.50, -0.44,
              -0.36, -0.31, -0.25, -0.19, -0.14, -0.06, 0.03, 0.08, 0.14, 0.25, 0.41, 0.45, 0.53,
              0.58, 0.65, 0.75, 0.81, 0.92, 1.03, 1.14, 1.25, 1.36, 1.47, 1.53, 1.61, 1.69, 1.75,
              1.86, 2.00]
SNR_E = [1.17, 1.17, None, 0.89, 0.89, 0.83, 0.67, 0.24, -1.0, -3, -3, -1.0,
         0.0, 0.25, 0.20, 0.16, 0.14, -0.16, -0.71, -0.36, -0.20, -0.31, -0.20, 0.16,
         0.47, 0.71, 0.67, 0.63, 0.70, 0.59, 0.65, 0.95, 1.11, 1.15, 1.14, 1.27,
         1.29, 1.59, 1.85, 1.91, 2.15, 2.59, 2.93, 2.96, 2.98, 3.04, 3.05, 2.82, 2.77,
         2.75, 2.88, 2.97, 3.02, 2.90, 2.82, 2.75, 2.39, 1.99, 1.51, 1.03, 0.89, 0.75, 0.63,
         0.39, 0.29]
SNR_N_LOGF = [-2.50, -2.35, None, -2.33, -2.14, -2.10, -2.02, -1.96, -1.91, -1.85, -1.78,
              -1.70, -1.61, -1.55, -1.48, -1.39, -1.31, -1.26, -1.21, -1.18, -0.84, -0.82, -0.79,
              -0.70, -0.64, -0.54, -0.46, -0.37, -0.26, -0.18, -0.10, 0.01, 0.12, 0.26, 0.34,
              0.48, 0.62, 0.73, 0.84, 0.92, 1.03, 1.12, 1.20, 1.31, 1.42, 1.53, 1.64, 1.72,
              1.83, 2.00]
SNR_N = [1.56, 1.56, None, 1.62, 1.62, 1.33, 1.29, 1.01, 0.63, 0.93, 1.09,
         1.08, 1.17, 1.11, 0.93, 0.85, 0.49, 0.05, -0.52, -3, -3, -0.36, 0.09,
         0.37, 0.57, 0.85, 1.13, 1.54, 2.06, 2.24, 2.24, 2.58, 2.66, 2.86, 2.69,
         2.88, 2.82, 2.89, 2.78, 2.86, 2.66, 2.58, 2.50, 1.98, 1.17, 0.85, 0.61, 0.46,
         0.33, 0.22]
SNR_Z_LOGF = [-2.50, -2.33, None, -2.33, -2.12, -2.08, -1.89, -1.83, -1.78, -1.72, -1.67,
              -1.60, -1.50, -1.39, -1.28, -1.20, -1.13, -1.06, -1.01, -0.95, -0.90, -0.81, -0.73,
              -0.68, -0.62, -0.54, -0.46, -0.34, -0.26, -0.18, -0.10, 0.01, 0.10, 0.21, 0.32,
              0.43, 0.54, 0.62, 0.70, 0.81, 0.87, 0.92, 1.01, 1.09, 1.17, 1.26, 1.37, 1.50,
              1.64, 1.75, 1.86, 2.00]
SNR_Z = [1.54, 1.54, None, 1.30, 1.30, 0.89, 0.89, 0.36, 0.48, 0.39, 0.48,
         0.36, 0.25, 0.27, 0.52, 0.70, 0.93, 0.52, 0.27, 0.61, 0.77, 0.68, 0.92,
         0.61, 0.39, 0.41, 0.70, 1.16, 1.48, 1.80, 1.91, 2.34, 2.43, 2.50, 2.55,
         2.64, 2.57, 2.43, 2.50, 2.68, 2.64, 2.61, 2.39, 2.39, 2.32, 2.32, 1.98, 1.36,
         1.25, 1.09, 0.84, 0.59]
SNR_THRESH = 3.0
SNR_REF_FREQS = [1.0, 5.0]
F_MIN = [0.213, 0.225, 0.31]
F_MAX = [50.0, 50.0, 75.0]

# ---------------- LAYOUT ----------------
W, H = 1170, 1000
COL_PX = [(94, 391), (466, 763), (837, 1135)]
ROW_PX = [(30, 129), (172, 270), (312, 410), (453, 650), (692, 890)]
FONT = "DejaVu Sans"
LIGHTBLUE = "#ADD8E6"
SALMON = "#FA8072"

T_RANGE = [-1.18, 24.78]
Y_RANGES = [
    [[-46.0, 43.6], [-48.9, 48.9], [-22.9, 24.8]],
    [[-1.31, 1.10], [-0.745, 1.06], [-0.437, 0.405]],
    [[-0.0665, 0.144], [-0.1103, 0.0579], [-0.0271, 0.031]],
    [[-6.644, 1.265], [-6.63, 1.223], [-7.085, 0.935]],
    [[-1.478, 3.263], [-1.684, 3.104], [0.09, 2.795]],
]
Y_DTICK = [[20, 20, 10], [0.5, 0.5, 0.2], [0.05, 0.025, 0.01]]
Y_FMT = [["d", "d", "d"], [".1f", ".1f", ".1f"], [".2f", ".3f", ".2f"]]
LOGX_RANGE = [-2.71, 2.23]


def sfx(k):
    return "" if k == 1 else str(k)


def pw(arr):
    return [None if v is None else 10.0 ** v for v in arr]


def sup(e):
    return "10<sup>%s%d</sup>" % ("\u2212" if e < 0 else "", abs(e))


fig = go.Figure()
base = dict(showline=True, mirror=True, linecolor="black", linewidth=1, ticks="outside",
            tickcolor="black", tickwidth=0.8, showgrid=False, zeroline=False)
axes = {}
minor_x = [m * 10.0 ** e for e in range(-3, 3) for m in range(2, 10)]
for r in range(5):
    for c in range(3):
        k = r * 3 + c + 1
        s = sfx(k)
        x0, x1 = COL_PX[c]
        ya0, ya1 = ROW_PX[r]
        xa = dict(base, domain=[x0 / W, x1 / W], anchor="y" + s)
        ya = dict(base, domain=[1 - ya1 / H, 1 - ya0 / H], anchor="x" + s)
        if r < 3:
            xa.update(range=T_RANGE, tickvals=[0, 5, 10, 15, 20], ticklen=3,
                      tickfont=dict(size=6, family=FONT, color="black"))
            ya.update(range=Y_RANGES[r][c], dtick=Y_DTICK[r][c], tickformat=Y_FMT[r][c],
                      ticklen=3, tickfont=dict(size=6, family=FONT, color="black"))
        else:
            xa.update(type="log", range=LOGX_RANGE, tickvals=[1e-2, 1e-1, 1, 10, 100],
                      ticktext=[sup(e) for e in (-2, -1, 0, 1, 2)], ticklen=3.5,
                      tickfont=dict(size=11, family=FONT, color="black"),
                      minor=dict(ticks="outside", ticklen=2, tickwidth=0.6, tickcolor="black",
                                 tickvals=minor_x, showgrid=False))
            lo, hi = Y_RANGES[r][c]
            if r == 3:
                if c < 2:
                    maj = [1, -1, -3, -5]
                    mnr = [0, -2, -4, -6]
                else:
                    maj = [0, -2, -4, -6]
                    mnr = [1, -1, -3, -5, -7]
                ya.update(type="log", range=[lo, hi], tickvals=[10.0 ** e for e in maj],
                          ticktext=[sup(e) for e in maj], ticklen=3.5,
                          tickfont=dict(size=11, family=FONT, color="black"),
                          minor=dict(ticks="outside", ticklen=2, tickwidth=0.6, tickcolor="black",
                                     tickvals=[10.0 ** e for e in mnr], showgrid=False))
            else:
                maj = [e for e in range(-2, 5) if lo <= e <= hi]
                mnr = [m * 10.0 ** e for e in range(-2, 4) for m in range(2, 10)]
                ya.update(type="log", range=[lo, hi], tickvals=[10.0 ** e for e in maj],
                          ticktext=[sup(e) for e in maj], ticklen=3.5,
                          tickfont=dict(size=11, family=FONT, color="black"),
                          minor=dict(ticks="outside", ticklen=2, tickwidth=0.6, tickcolor="black",
                                     tickvals=mnr, showgrid=False))
        axes["xaxis" + s] = xa
        axes["yaxis" + s] = ya

shapes = []
annotations = []

acc = [(ACC_E_PRE, ACC_E), (ACC_N_PRE, ACC_N), (ACC_Z_PRE, ACC_Z)]
vel = [(VEL_E_PRE, VEL_E), (VEL_N_PRE, VEL_N), (VEL_Z_PRE, VEL_Z)]
disp = [(DISP_E_PRE, DISP_E), (DISP_N_PRE, DISP_N), (DISP_Z_PRE, DISP_Z)]
peak_txt = [PGA_TXT, PGV_TXT, PGD_TXT]

for r, series in enumerate([acc, vel, disp]):
    for c in range(3):
        k = r * 3 + c + 1
        s = sfx(k)
        pre, main = series[c]
        t = list(T_PRE) + list(np.linspace(T_MAIN[0], T_MAIN[1], len(main)))
        y = list(pre) + list(main)
        if r > 0:
            lo, hi = (NOISE_VEL if r == 1 else NOISE_DISP)[c]
            shapes.append(dict(type="rect", xref="x" + s, yref="y" + s, x0=NOISE_WIN[0],
                               x1=NOISE_WIN[1], y0=lo, y1=hi, fillcolor="#40F88C",
                               line=dict(width=0), layer="below"))
        fig.add_trace(go.Scatter(x=t, y=y, mode="lines", line=dict(color="black", width=0.7),
                                 xaxis="x" + s, yaxis="y" + s, hoverinfo="skip"))
        shapes.append(dict(type="line", xref="x" + s, yref="y" + s + " domain", x0=P_ARRIVAL,
                           x1=P_ARRIVAL, y0=0, y1=1, line=dict(color="red", width=2, dash="dash"),
                           layer="above"))
        x1px = COL_PX[c][1]
        y0px = ROW_PX[r][0]
        annotations.append(dict(text=peak_txt[r][c], xref="paper", yref="paper",
                                x=(x1px - 15) / W, y=1 - (y0px + 10) / H, xanchor="right",
                                yanchor="middle", showarrow=False,
                                font=dict(size=11, color="#808080", family=FONT)))

raw_sig = [(SIG_UP_E, SIG_LO_E), (SIG_UP_N, SIG_LO_N), (SIG_UP_Z, SIG_LO_Z)]
raw_noise = [(NOISE_UP_E, NOISE_LO_E), (NOISE_UP_N, NOISE_LO_N), (NOISE_UP_Z, NOISE_LO_Z)]
sm_sig = [(SM_SIG_E_LOGF, SM_SIG_E), (SM_SIG_N_LOGF, SM_SIG_N), (SM_SIG_Z_LOGF, SM_SIG_Z)]
sm_noise = [(SM_NOISE_E_LOGF, SM_NOISE_E), (SM_NOISE_N_LOGF, SM_NOISE_N), (SM_NOISE_Z_LOGF, SM_NOISE_Z)]
model = [(MODEL_E_LOGF, MODEL_E), (MODEL_N_LOGF, MODEL_N), (MODEL_Z_LOGF, MODEL_Z)]
snr = [(SNR_E_LOGF, SNR_E), (SNR_N_LOGF, SNR_N), (SNR_Z_LOGF, SNR_Z)]


def add_line(xs, ys, s, color, width, dash=None):
    n = min(len(xs), len(ys))
    fig.add_trace(go.Scatter(x=xs[:n], y=ys[:n], mode="lines",
                             line=dict(color=color, width=width, dash=dash),
                             xaxis="x" + s, yaxis="y" + s, hoverinfo="skip",
                             connectgaps=False))


def add_band(up, lo, s, color):
    n = min(len(up), len(lo))
    g = list(10.0 ** np.linspace(RAW_LOGF_SPAN[0], RAW_LOGF_SPAN[1], n))
    xs = g + g[::-1]
    ys = pw(up[:n]) + pw(lo[:n])[::-1]
    fig.add_trace(go.Scatter(x=xs, y=ys, mode="lines", fill="toself", fillcolor=color,
                             line=dict(color=color, width=1), xaxis="x" + s, yaxis="y" + s,
                             hoverinfo="skip"))


for c in range(3):
    k = 3 * 3 + c + 1
    s = sfx(k)
    add_band(raw_sig[c][0], raw_sig[c][1], s, LIGHTBLUE)
    add_band(raw_noise[c][0], raw_noise[c][1], s, SALMON)
    add_line(pw(sm_sig[c][0]), pw(sm_sig[c][1]), s, "blue", 2)
    add_line(pw(sm_noise[c][0]), pw(sm_noise[c][1]), s, "red", 2)
    add_line(pw(model[c][0]), pw(model[c][1]), s, "black", 2, "dash")
    add_line([CORNER_FREQ[c]] * 2, [1e-12, 1e6], s, "black", 2, "dash")

for c in range(3):
    k = 4 * 3 + c + 1
    s = sfx(k)
    add_line([1e-4, 1e4], [SNR_THRESH] * 2, s, "#C0C0C0", 3)
    for f in SNR_REF_FREQS:
        add_line([f, f], [1e-4, 1e5], s, "#C0C0C0", 3)
    add_line(pw(snr[c][0]), pw(snr[c][1]), s, "#1f77b4", 2)
    for f in (F_MIN[c], F_MAX[c]):
        add_line([f, f], [1e-4, 1e5], s, "black", 2, "dash")

# Titles and axis labels
for c in range(3):
    cx = (COL_PX[c][0] + COL_PX[c][1]) / 2 / W
    annotations.append(dict(text=STATIONS[c], xref="paper", yref="paper", x=cx, y=1 - 17 / H,
                            xanchor="center", yanchor="middle", showarrow=False,
                            font=dict(size=13, family=FONT, color="black")))
    annotations.append(dict(text="Time (s)", xref="paper", yref="paper", x=cx, y=1 - 436 / H,
                            xanchor="center", yanchor="middle", showarrow=False,
                            font=dict(size=11, family=FONT, color="black")))
    for yy in (686, 926):
        annotations.append(dict(text="Frequency (Hz)", xref="paper", yref="paper", x=cx,
                                y=1 - yy / H, xanchor="center", yanchor="middle", showarrow=False,
                                font=dict(size=11, family=FONT, color="black")))

YLABELS = [("Acceleration (cm/s/s)", 58), ("Velocity (cm/s)", 55), ("Displacement (cm)", 50),
           ("Amplitude (cm/s)", 45), ("SNR", 46)]
for r, (txt, xp) in enumerate(YLABELS):
    cy = (ROW_PX[r][0] + ROW_PX[r][1]) / 2
    annotations.append(dict(text=txt, xref="paper", yref="paper", x=xp / W, y=1 - cy / H,
                            xanchor="center", yanchor="middle", textangle=-90, showarrow=False,
                            font=dict(size=11, family=FONT, color="black")))

fig.update_layout(width=W, height=H, margin=dict(l=0, r=0, t=0, b=0), paper_bgcolor="white",
                  plot_bgcolor="white", showlegend=False, font=dict(family=FONT, color="black"),
                  shapes=shapes, annotations=annotations, **axes)
fig.write_html("out.html", config={"displayModeBar": False},
               post_script="document.body.style.margin='0px';document.body.style.overflow='hidden';")
